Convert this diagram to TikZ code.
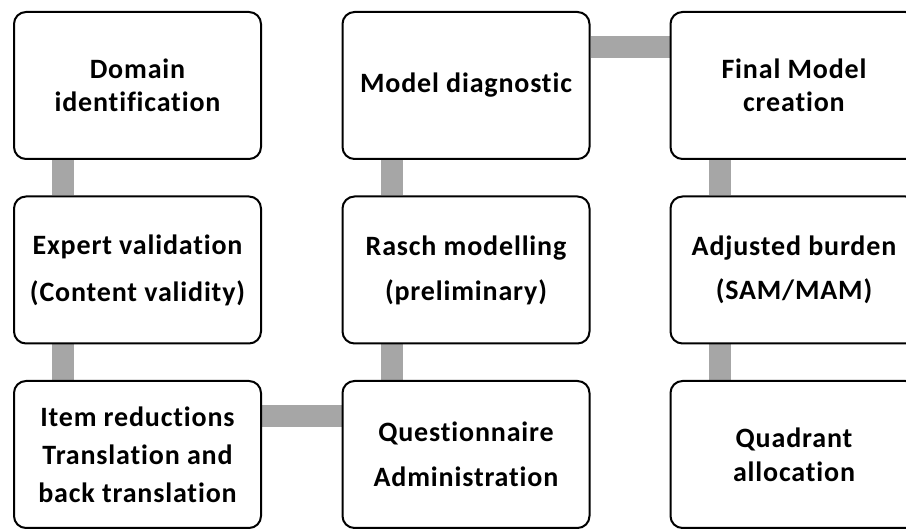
\documentclass[tikz,border=0pt]{standalone}
\usepackage{fontspec}
\setmainfont{Carlito}[Ligatures={NoCommon}, LetterSpace=3]
\usetikzlibrary{backgrounds}
\definecolor{barg}{HTML}{A6A6A6}
\begin{document}
\begin{tikzpicture}[x=1pt,y=-1pt,
  box/.style={draw=black, line width=2pt, rounded corners=12pt, fill=white,
    minimum width=247pt, minimum height=147pt, align=center, inner sep=0pt,
    font=\bfseries\fontsize{28}{33}\selectfont},
  bar/.style={draw=barg, line width=22pt}]
\clip (0,0) rectangle (906,529);
\node[box] (dom) at (137.5,85.5) {Domain\\identification};
\node[box, font=\bfseries\fontsize{28}{47}\selectfont] (exp) at (137.5,270) {Expert validation\\(Content validity)};
\node[box, font=\bfseries\fontsize{28}{38}\selectfont] (item) at (137.5,454.5) {Item reductions\\Translation and\\back translation};
\node[box] (mdl) at (466,85.5) {Model diagnostic};
\node[box, font=\bfseries\fontsize{28}{45}\selectfont] (ras) at (466,270) {Rasch modelling\\(preliminary)};
\node[box, font=\bfseries\fontsize{28}{45}\selectfont] (que) at (466,454.5) {Questionnaire\\Administration};
\node[box] (fin) at (794,85.5) {Final Model\\creation};
\node[box, font=\bfseries\fontsize{28}{44}\selectfont] (adj) at (794,270) {Adjusted burden\\(SAM/MAM)};
\node[box, font=\bfseries\fontsize{28}{34}\selectfont] (qua) at (794,454.5) {Quadrant\\allocation};
\begin{scope}[on background layer]
  \fill[white] (0,0) rectangle (906,529);
  \draw[bar] ([xshift=50pt]dom.south west) -- ([xshift=50pt]exp.north west);
  \draw[bar] ([xshift=50pt]exp.south west) -- ([xshift=50pt]item.north west);
  \draw[bar] ([yshift=-36pt]item.north east) -- ([yshift=-36pt]que.north west);
  \draw[bar] ([xshift=50pt]que.north west) -- ([xshift=50pt]ras.south west);
  \draw[bar] ([xshift=50pt]ras.north west) -- ([xshift=50pt]mdl.south west);
  \draw[bar] ([yshift=-36pt]mdl.north east) -- ([yshift=-36pt]fin.north west);
  \draw[bar] ([xshift=50pt]fin.south west) -- ([xshift=50pt]adj.north west);
  \draw[bar] ([xshift=50pt]adj.south west) -- ([xshift=50pt]qua.north west);
\end{scope}
\end{tikzpicture}
\end{document}
